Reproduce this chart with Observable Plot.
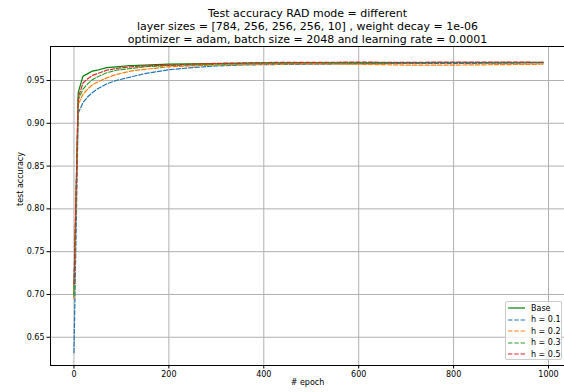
<!DOCTYPE html>
<html>
<head>
<meta charset="utf-8">
<script src="https://cdn.jsdelivr.net/npm/d3@7"></script>
<script src="https://cdn.jsdelivr.net/npm/@observablehq/plot@0.6"></script>
<style>
  html, body { margin: 0; padding: 0; background: white; overflow: hidden; }
  #wrap { position: relative; width: 564px; height: 392px; font-family: "DejaVu Sans", sans-serif; }
  #legend { position: absolute; left: 505px; top: 301px; width: 57px; height: 59px;
    background: rgba(255,255,255,0.8); border: 1px solid #cccccc; border-radius: 2px;
    font-size: 8px; color: #000; box-sizing: border-box; }
  .row { position: absolute; left: 0; height: 11px; display: flex; align-items: center; }
  .row svg { margin-left: 2px; }
  .row span { margin-left: 6px; white-space: nowrap; }
</style>
</head>
<body>
<div id="wrap"></div>
<script>
const epochs = [0, 9, 19, 29, 39, 49, 69, 89, 119, 149, 199, 249, 299, 349, 399, 499, 599, 699, 799, 899, 989];
const base = [0.700, 0.936, 0.955, 0.958, 0.961, 0.962, 0.965, 0.966, 0.9675, 0.968, 0.969, 0.9695, 0.9698, 0.970, 0.9703, 0.9705, 0.9707, 0.9708, 0.971, 0.971, 0.9712];
const h01 = [0.632, 0.912, 0.924, 0.931, 0.936, 0.940, 0.946, 0.950, 0.954, 0.958, 0.9625, 0.965, 0.967, 0.968, 0.9685, 0.969, 0.9695, 0.970, 0.9698, 0.9703, 0.9705];
const h02 = [0.695, 0.922, 0.934, 0.940, 0.945, 0.948, 0.953, 0.957, 0.961, 0.963, 0.966, 0.967, 0.968, 0.9685, 0.969, 0.9695, 0.969, 0.968, 0.968, 0.9685, 0.969];
const h03 = [0.698, 0.927, 0.940, 0.946, 0.951, 0.954, 0.959, 0.962, 0.964, 0.966, 0.9675, 0.968, 0.969, 0.9695, 0.970, 0.9705, 0.970, 0.9705, 0.971, 0.9705, 0.971];
const h05 = [0.712, 0.930, 0.947, 0.952, 0.956, 0.958, 0.962, 0.964, 0.966, 0.967, 0.968, 0.969, 0.970, 0.9705, 0.971, 0.9712, 0.9714, 0.9712, 0.9715, 0.9714, 0.9713];
const seriesNames = ["Base", "h = 0.1", "h = 0.2", "h = 0.3", "h = 0.5"];
const seriesValues = [base, h01, h02, h03, h05];
const seriesColors = ["#008000", "#1f77b4", "#ff7f0e", "#2ca02c", "#d62728"];
const xTicks = [0, 200, 400, 600, 800, 1000];
const yTicks = [0.65, 0.70, 0.75, 0.80, 0.85, 0.90, 0.95];
const titleLines = ["Test accuracy RAD mode = different",
  "layer sizes = [784, 256, 256, 256, 10] , weight decay = 1e-06",
  "optimizer = adam, batch size = 2048 and learning rate = 0.0001"];
const xLabel = "# epoch";
const yLabel = "test accuracy";

const xDomain = [-49.45, 1033.7];
const yDomain = [0.617, 0.9897];

const data = seriesNames.flatMap((name, i) =>
  seriesValues[i].map((v, j) => ({epoch: epochs[j], acc: v, series: name})));

const lineMarks = seriesNames.map((name, i) =>
  Plot.line(data.filter(d => d.series === name), {
    x: "epoch", y: "acc", stroke: seriesColors[i], strokeWidth: 1.2,
    strokeDasharray: i === 0 ? null : "4.4,1.9"
  }));

const chart = Plot.plot({
  width: 564, height: 392,
  marginTop: 46, marginBottom: 27, marginLeft: 50, marginRight: 0,
  style: {fontFamily: "DejaVu Sans", fontSize: "8px", background: "white", color: "black"},
  x: {domain: xDomain, label: null},
  y: {domain: yDomain, label: null},
  marks: [
    Plot.gridX(xTicks, {stroke: "#b0b0b0", strokeOpacity: 1, strokeWidth: 1}),
    Plot.gridY(yTicks, {stroke: "#b0b0b0", strokeOpacity: 1, strokeWidth: 1}),
    Plot.axisX({ticks: xTicks, tickSize: 3.5, tickPadding: 2, tickFormat: d3.format("d"), label: null, fontSize: 8}),
    Plot.axisY({ticks: yTicks, tickSize: 3.5, tickPadding: 2.5, tickFormat: d3.format(".2f"), label: null, fontSize: 8}),
    ...lineMarks,
    Plot.ruleX([xDomain[0]], {stroke: "black", strokeWidth: 1}),
    Plot.ruleY([yDomain[0], yDomain[1]], {stroke: "black", strokeWidth: 1}),
    Plot.text([yLabel], {frameAnchor: "left", dx: -30, rotate: -90, fontSize: 8}),
    Plot.text([xLabel], {frameAnchor: "bottom", dy: 19, fontSize: 8}),
    Plot.text([titleLines.join("\n")], {frameAnchor: "top", lineAnchor: "top", dy: -39, fontSize: 11, lineHeight: 1.18})
  ]
});

const wrap = document.getElementById("wrap");
wrap.appendChild(chart);

const legend = document.createElement("div");
legend.id = "legend";
seriesNames.forEach((name, i) => {
  const row = document.createElement("div");
  row.className = "row";
  row.style.top = (0.5 + i * 11.6) + "px";
  const dash = i === 0 ? "" : ' stroke-dasharray="4.4,1.9"';
  row.innerHTML = `<svg width="17" height="6"><line x1="0" y1="3" x2="17" y2="3" stroke="${seriesColors[i]}" stroke-width="1.2"${dash}/></svg><span>${name}</span>`;
  legend.appendChild(row);
});
wrap.appendChild(legend);
</script>
</body>
</html>
